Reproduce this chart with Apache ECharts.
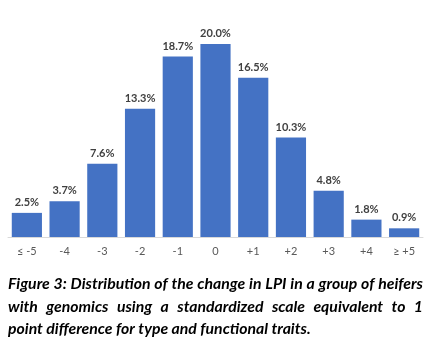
<!DOCTYPE html>
<html>
<head>
<meta charset="utf-8">
<script src="https://cdn.jsdelivr.net/npm/echarts@6/dist/echarts.min.js"></script>
<style>html,body{margin:0;padding:0;background:#fff;}#c{width:433px;height:345px;}</style>
</head>
<body>
<div id="c"></div>
<script>
const categories = ['≤ -5', '-4', '-3', '-2', '-1', '0', '+1', '+2', '+3', '+4', '≥ +5'];
const values = [2.5, 3.7, 7.6, 13.3, 18.7, 20.0, 16.5, 10.3, 4.8, 1.8, 0.9];
const captionLines = [
  'Figure 3: Distribution of the change in LPI in a group of heifers',
  'with genomics using a standardized scale equivalent to 1',
  'point difference for type and functional traits.'
];

const FONT = 'Lato';
const ctx = document.createElement('canvas').getContext('2d');
function w(text, fs) { ctx.font = 'italic bold ' + fs + 'px ' + FONT; return ctx.measureText(text).width; }
const capLeft = 8, capRight = 423, capW = capRight - capLeft;
let fs = 16;
fs = Math.min(17.5, fs * (capW - 4) / w(captionLines[0], fs));
const lineY = [285, 308, 330];
const graphics = [];
captionLines.forEach(function (line, i) {
  if (i === captionLines.length - 1) {
    graphics.push({ type: 'text', left: capLeft, top: lineY[i] - fs * 0.6,
      style: { text: line, font: 'italic bold ' + fs + 'px ' + FONT, fill: '#000' } });
    return;
  }
  const words = line.split(' ');
  const ws = words.map(function (t) { return w(t, fs); });
  const sum = ws.reduce(function (a, b) { return a + b; }, 0);
  const gap = (capW - sum) / (words.length - 1);
  let x = capLeft;
  words.forEach(function (t, j) {
    graphics.push({ type: 'text', x: x, y: lineY[i] - fs * 0.6,
      style: { text: t, font: 'italic bold ' + fs + 'px ' + FONT, fill: '#000' } });
    x += ws[j] + gap;
  });
});

const chart = echarts.init(document.getElementById('c'), null, { renderer: 'canvas' });
chart.setOption({
  animation: false,
  backgroundColor: '#fff',
  grid: { left: 8, right: 10, top: 44, bottom: 108, containLabel: false },
  xAxis: {
    type: 'category', data: categories,
    axisLine: { lineStyle: { color: '#d9d9d9', width: 1 } },
    axisTick: { show: false },
    axisLabel: { color: '#595959', fontSize: 11, fontFamily: FONT, margin: 9, interval: 0 }
  },
  yAxis: { type: 'value', min: 0, max: 20, show: false, splitLine: { show: false } },
  series: [{
    type: 'bar', data: values, barCategoryGap: '20%',
    itemStyle: { color: '#4472C4' },
    label: {
      show: true, position: 'top', distance: 5,
      formatter: function (p) { return p.value.toFixed(1) + '%'; },
      color: '#404040', fontWeight: 'bold', fontSize: 11, fontFamily: FONT
    }
  }],
  graphic: graphics
});
</script>
</body>
</html>
